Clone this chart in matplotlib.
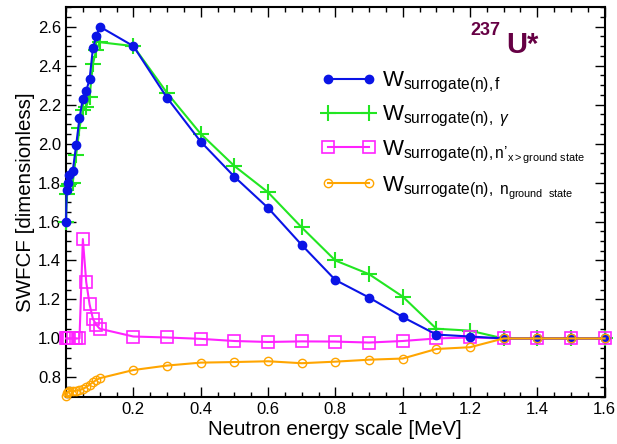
import matplotlib
matplotlib.use("Agg")
import matplotlib.pyplot as plt
from matplotlib.ticker import MultipleLocator, FormatStrFormatter

plt.rcParams['font.family'] = ['Liberation Sans', 'DejaVu Sans']
plt.rcParams['mathtext.fontset'] = 'custom'
plt.rcParams['mathtext.rm'] = 'Liberation Sans'
plt.rcParams['mathtext.it'] = 'Liberation Sans:italic'
plt.rcParams['mathtext.bf'] = 'Liberation Sans:bold'

# neutron energy grid [MeV]
energy = [0.0, 0.002, 0.005, 0.01, 0.02, 0.03, 0.04, 0.05, 0.06, 0.07, 0.08, 0.09,
          0.1, 0.2, 0.3, 0.4, 0.5, 0.6, 0.7, 0.8, 0.9, 1.0, 1.1, 1.2, 1.3, 1.4, 1.5, 1.6]

w_fission = [1.60, 1.76, 1.80, 1.84, 1.86, 1.99, 2.13, 2.23, 2.27, 2.33, 2.49, 2.55,
             2.60, 2.50, 2.235, 2.01, 1.83, 1.67, 1.48, 1.30, 1.21, 1.11, 1.02, 1.01,
             1.0, 1.0, 1.0, 1.0]
w_gamma = [1.60, 1.74, 1.78, 1.79, 1.80, 1.94, 2.08, 2.17, 2.19, 2.24, 2.41, 2.48,
           2.52, 2.50, 2.26, 2.05, 1.885, 1.75, 1.57, 1.40, 1.33, 1.215, 1.05, 1.04,
           1.0, 1.0, 1.0, 1.0]
w_nexc = [1.0, 1.0, 1.0, 1.0, 1.0, 1.0, 1.0, 1.51, 1.29, 1.175, 1.10, 1.07,
          1.05, 1.01, 1.005, 0.998, 0.987, 0.982, 0.985, 0.984, 0.979, 0.987, 1.0, 1.005,
          1.0, 1.0, 1.0, 1.0]
w_ngs = [0.707, 0.72, 0.727, 0.73, 0.73, 0.732, 0.735, 0.742, 0.75, 0.763, 0.775, 0.787,
         0.796, 0.838, 0.861, 0.876, 0.879, 0.883, 0.873, 0.881, 0.891, 0.897, 0.946, 0.955,
         1.0, 1.0, 1.0, 1.0]

labels = [r"W$_{\mathrm{surrogate(n),f}}$",
          r"W$_{\mathrm{surrogate(n),\ }\gamma}$",
          r"W$_{\mathrm{surrogate(n),n’_{x>ground\ state}}}$",
          r"W$_{\mathrm{surrogate(n),\ n_{ground\ \ state}}}$"]

fig = plt.figure(figsize=(6.17, 4.44), dpi=100)
ax = fig.add_axes([0.107, 0.106, 0.873, 0.878])

ax.plot(energy, w_fission, color='#0a14e6', lw=1.5, marker='o', ms=6,
        label=labels[0], clip_on=False, zorder=4)
ax.plot(energy, w_gamma, color='#22e622', lw=1.5, marker='+', ms=11, mew=1.5,
        label=labels[1], clip_on=False, zorder=3)
ax.plot(energy, w_nexc, color='#ff22ff', lw=1.5, marker='s', ms=8, mfc='none', mew=1.2,
        label=labels[2], clip_on=False, zorder=3)
ax.plot(energy, w_ngs, color='#ffa500', lw=1.5, marker='o', ms=6, mfc='none', mew=1.0,
        label=labels[3], clip_on=False, zorder=5)

ax.set_xlim(0, 1.6)
ax.set_ylim(0.7, 2.7)
ax.set_xticks([0.2, 0.4, 0.6, 0.8, 1.0, 1.2, 1.4, 1.6])
ax.set_xticklabels(['0.2', '0.4', '0.6', '0.8', '1', '1.2', '1.4', '1.6'])
ax.xaxis.set_minor_locator(MultipleLocator(0.05))
ax.yaxis.set_major_locator(MultipleLocator(0.2))
ax.yaxis.set_major_formatter(FormatStrFormatter('%.1f'))
ax.yaxis.set_minor_locator(MultipleLocator(0.05))
ax.tick_params(which='both', direction='in', top=True, right=True, labelsize=12, width=1.0)
ax.tick_params(which='major', length=7)
ax.tick_params(which='minor', length=3.5)
for s in ax.spines.values():
    s.set_linewidth(1.5)

ax.set_xlabel('Neutron energy scale [MeV]', fontsize=14.8, labelpad=2)
ax.set_ylabel('SWFCF [dimensionless]', fontsize=14.8, labelpad=2)

ax.legend(loc='upper left', bbox_to_anchor=(0.458, 0.862), frameon=False, numpoints=2,
          fontsize=16, handlelength=2.45, handletextpad=0.25, labelspacing=0.42,
          borderaxespad=0)

ax.text(0.751, 0.928, '237', transform=ax.transAxes, fontsize=13, fontweight='bold',
        color='#660044')
ax.text(0.818, 0.882, 'U*', transform=ax.transAxes, fontsize=21, fontweight='bold',
        color='#660044')

fig.savefig('out.png', dpi=100)
